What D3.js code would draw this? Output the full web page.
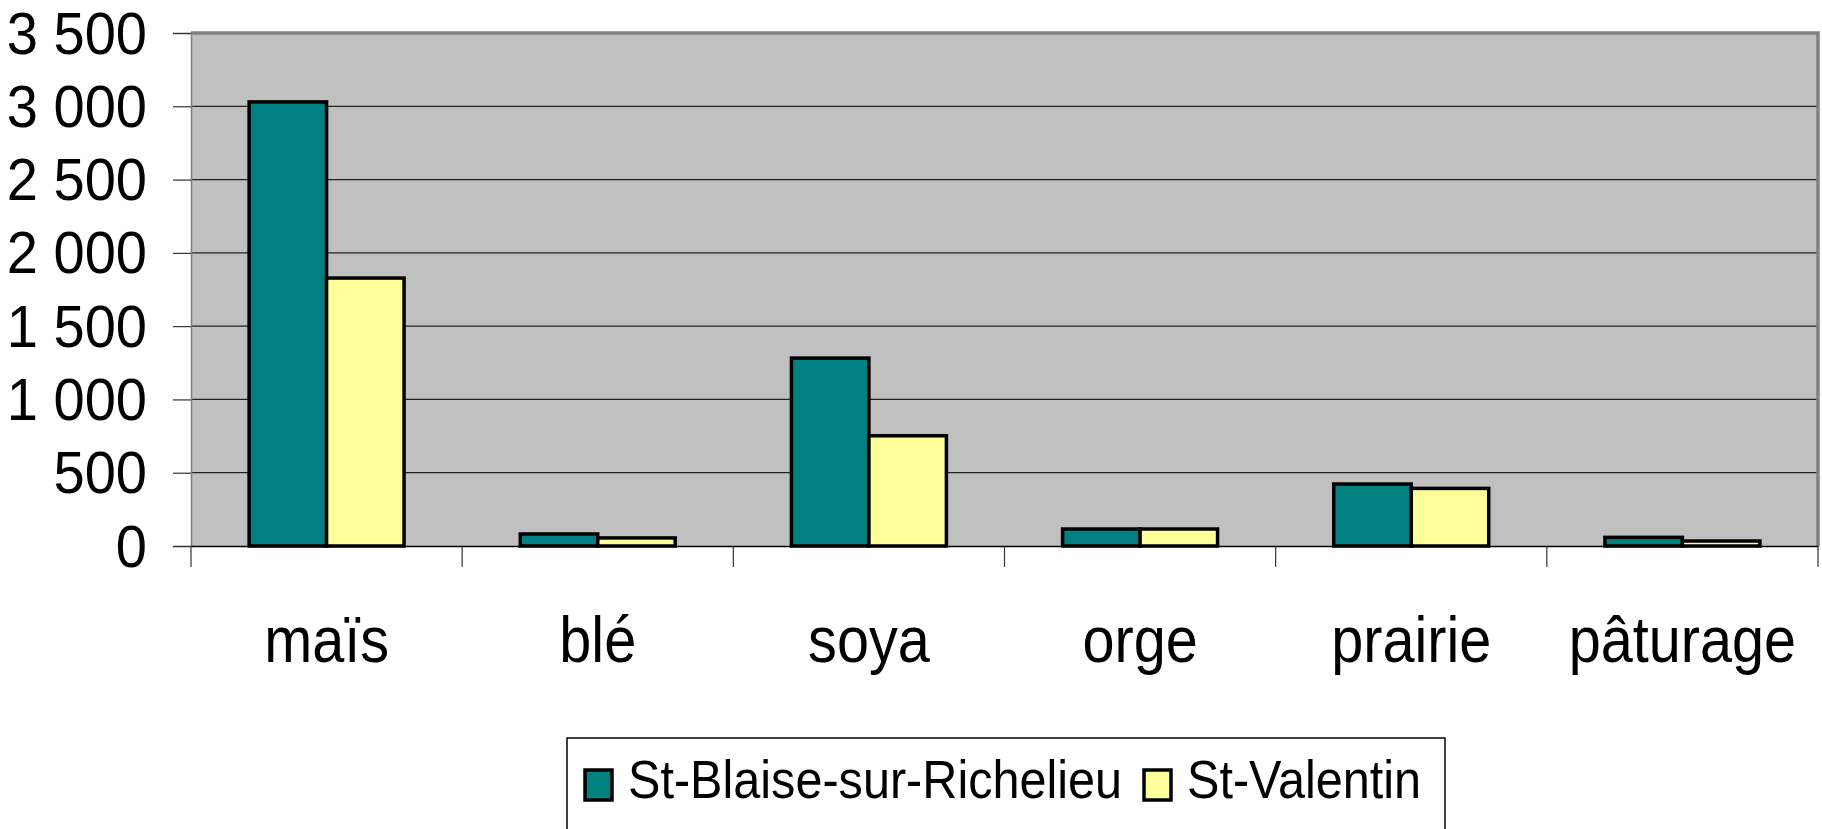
<!DOCTYPE html>
<html>
<head>
<meta charset="utf-8">
<script src="https://cdn.jsdelivr.net/npm/d3@7"></script>
<style>
  body { margin: 0; background: #fff; }
  text { font-family: "Liberation Sans", Arial, sans-serif; fill: #000; }
</style>
</head>
<body>
<script>
var categories = ["maïs", "blé", "soya", "orge", "prairie", "pâturage"];
var seriesNames = ["St-Blaise-sur-Richelieu", "St-Valentin"];
var stBlaise = [3030, 82, 1282, 116, 423, 59];
var stValentin = [1828, 55, 752, 116, 393, 34];
var yTicks = [0, 500, 1000, 1500, 2000, 2500, 3000, 3500];
var colors = ["#008080", "#ffff99"];

(function() {
  var width = 1822,
      height = 829;
  var plotLeft = 191, plotRight = 1818, plotTop = 33, plotBottom = 546;
  var squeeze = 0.9;

  var svg = d3.select("body").append("svg")
      .attr("width", width)
      .attr("height", height);

  var x = d3.scaleBand().domain(categories).range([plotLeft, plotRight]).padding(0);
  var xs = d3.scaleBand().domain(seriesNames).range([0, x.bandwidth()])
      .paddingInner(0).paddingOuter(0.75);
  var y = d3.scaleLinear().domain([0, 3500]).range([plotBottom, plotTop]);

  var fmt = function(v) { return d3.format(",")(v).replace(/,/g, " "); };

  // plot area
  svg.append("rect")
      .attr("x", plotLeft).attr("y", plotTop)
      .attr("width", plotRight - plotLeft).attr("height", plotBottom - plotTop)
      .attr("fill", "#c0c0c0");

  // gridlines
  svg.append("g").selectAll("line")
      .data(yTicks.filter(function(d){ return d > 0 && d < 3500; }))
    .enter().append("line")
      .attr("x1", plotLeft).attr("x2", plotRight)
      .attr("y1", function(d){ return y(d); })
      .attr("y2", function(d){ return y(d); })
      .attr("stroke", "#222").attr("stroke-width", 1.2);

  // top and right border (grey)
  svg.append("path")
      .attr("d", "M" + plotLeft + "," + plotTop + "H" + plotRight + "V" + plotBottom)
      .attr("fill", "none").attr("stroke", "#808080").attr("stroke-width", 3.5);

  // bars
  var rows = categories.map(function(c, i){
    return { cat: c, vals: [stBlaise[i], stValentin[i]] };
  });
  var grp = svg.append("g").selectAll("g")
      .data(rows)
    .enter().append("g")
      .attr("transform", function(d){ return "translate(" + x(d.cat) + ",0)"; });
  grp.selectAll("rect")
      .data(function(d){ return d.vals.map(function(v, j){ return { name: seriesNames[j], v: v, j: j }; }); })
    .enter().append("rect")
      .attr("x", function(d){ return xs(d.name); })
      .attr("y", function(d){ return y(d.v); })
      .attr("width", xs.bandwidth())
      .attr("height", function(d){ return plotBottom - y(d.v); })
      .attr("fill", function(d){ return colors[d.j]; })
      .attr("stroke", "#000").attr("stroke-width", 3.5);

  // y axis
  var yAxis = svg.append("g")
      .attr("transform", "translate(" + plotLeft + ",0)")
      .call(d3.axisLeft(y).tickValues(yTicks).tickSize(18).tickFormat(""));
  yAxis.select(".domain").attr("stroke", "#808080").attr("stroke-width", 1.5);
  yAxis.selectAll(".tick line").attr("stroke", "#333").attr("stroke-width", 1.2);

  svg.append("g").selectAll("text")
      .data(yTicks)
    .enter().append("text")
      .attr("transform", function(d){ return "translate(147," + y(d) + ") scale(0.95,1)"; })
      .attr("text-anchor", "end")
      .attr("dominant-baseline", "central")
      .attr("font-size", 59)
      .text(fmt);

  // x axis
  var xAxis = svg.append("g")
      .attr("transform", "translate(0," + plotBottom + ")")
      .call(d3.axisBottom(x).tickSize(0).tickFormat(""));
  xAxis.select(".domain").attr("stroke", "#000").attr("stroke-width", 1.5);
  var catEdges = d3.range(categories.length + 1).map(function(i){ return plotLeft + i * x.step(); });
  svg.append("g").selectAll("line")
      .data(catEdges)
    .enter().append("line")
      .attr("x1", function(d){ return d; }).attr("x2", function(d){ return d; })
      .attr("y1", plotBottom).attr("y2", plotBottom + 21)
      .attr("stroke", "#333").attr("stroke-width", 1.2);

  svg.append("g").selectAll("text")
      .data(categories)
    .enter().append("text")
      .attr("transform", function(d){ return "translate(" + (x(d) + x.bandwidth() / 2) + ",662) scale(" + squeeze + ",1)"; })
      .attr("text-anchor", "middle")
      .attr("font-size", 64)
      .text(function(d){ return d; });

  // legend
  var legend = svg.append("g");
  legend.append("rect")
      .attr("x", 567).attr("y", 738)
      .attr("width", 878).attr("height", 120)
      .attr("fill", "#fff").attr("stroke", "#000").attr("stroke-width", 1.5);
  var legendX = [585, 1144];
  var li = legend.selectAll("g.item")
      .data(seriesNames)
    .enter().append("g").attr("class", "item")
      .attr("transform", function(d, i){ return "translate(" + legendX[i] + ",0)"; });
  li.append("rect")
      .attr("x", 0).attr("y", 770)
      .attr("width", 27).attr("height", 30)
      .attr("fill", function(d, i){ return colors[i]; })
      .attr("stroke", "#000").attr("stroke-width", 3.5);
  li.append("text")
      .attr("transform", "translate(43,798) scale(" + squeeze + ",1)")
      .attr("font-size", 54)
      .text(function(d){ return d; });
})();
</script>
</body>
</html>
